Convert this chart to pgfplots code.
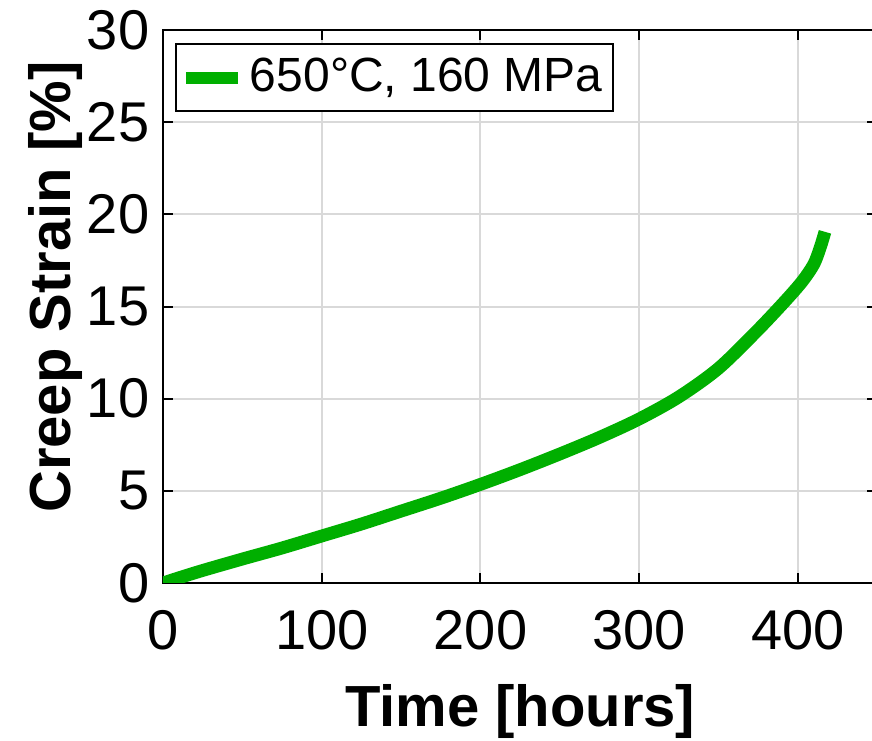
\documentclass[border=0pt]{standalone}
\usepackage{fontspec}
\setmainfont{Liberation Sans}
\usepackage{pgfplots}
\pgfplotsset{compat=1.18}
\definecolor{lgreen}{RGB}{0,175,0}
\begin{document}
\begin{tikzpicture}
\useasboundingbox (-40.75pt,-39.5pt) rectangle (177.25pt,145.75pt);
\clip (-40.75pt,-39.5pt) rectangle (177.25pt,145.75pt);
\begin{axis}[
 at={(0pt,0pt)}, anchor=south west,
 scale only axis, width=178.6pt, height=138.25pt,
 xmin=0, xmax=450, ymin=0, ymax=30,
 xtick={0,100,200,300,400}, ytick={0,5,10,15,20,25,30},
 grid=major, major grid style={line width=0.5pt, black!15},
 axis line style={line width=0.5pt, black},
 tick align=inside, major tick length=2.5pt, tick style={line width=0.5pt, black},
 tick pos=both,
 /pgf/number format/assume math mode=true,
 ticklabel style={font=\fontsize{14}{16}\selectfont},
 yticklabel style={inner sep=0pt, anchor=east, xshift=-3.25pt},
 xticklabel style={inner sep=0pt, anchor=north, yshift=-6.75pt},
 xlabel={Time [hours]}, ylabel={Creep Strain [\%]},
 label style={font=\bfseries\fontsize{14.5}{17}\selectfont},
 xlabel style={at={(axis description cs:0.5,-0.26)}, anchor=base},
 ylabel style={at={(axis description cs:-0.151,0.535)}, anchor=center},
 legend style={at={(axis description cs:0,1)}, anchor=north west, xshift=3pt, yshift=-3.2pt,
   draw=black, line width=0.5pt, font=\fontsize{12}{14}\selectfont,
   inner xsep=1pt, inner ysep=1.5pt, nodes={inner xsep=1.5pt}, cells={anchor=west}},
 legend image code/.code={\draw[#1, line width=3pt] (0pt,0pt) -- (13pt,0pt);},
]
\addplot[color=lgreen, line width=3.2pt, smooth] coordinates {
(0,0) (10,0.28) (25,0.68) (50,1.3) (75,1.9) (100,2.55) (125,3.2) (150,3.9)
(175,4.6) (200,5.35) (225,6.15) (250,7.0) (275,7.9) (300,8.9) (325,10.1)
(350,11.65) (375,13.75) (393,15.4) (403,16.4) (410,17.3) (414,18.2) (417,19.05)
};
\addlegendentry{650°C, 160 MPa}
\end{axis}
\end{tikzpicture}
\end{document}
